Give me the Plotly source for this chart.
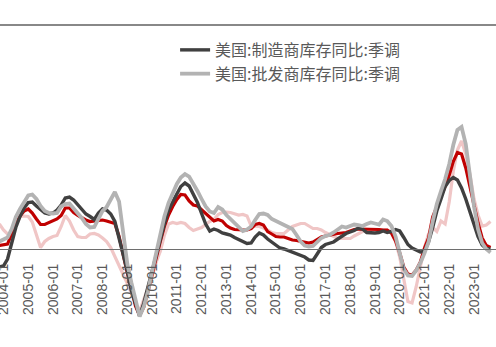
import pandas as pd
import plotly.graph_objects as go

# Bi-monthly observations, Nov 2003 - Sep 2023 (YoY %, seasonally adjusted)
months = pd.date_range("2003-11-01", "2023-09-01", freq="2MS")

manufacturing = [
    -3.6, -3.4, -2.0, 1.3, 4.3, 6.5, 8.2, 9.3, 9.4, 8.6, 7.9, 7.2, 7.0, 7.2, 7.8, 8.8,
    10.2, 10.4, 9.8, 8.8, 7.8, 7.0, 6.5, 5.9, 7.2, 8.0, 7.8, 7.0, 5.5, 2.2, -0.9, -4.4,
    -8.3, -11.0, -13.4, -10.8, -7.5, -4.3, -1.0, 1.9, 5.0, 7.8, 9.6, 11.0, 12.5, 13.2, 12.6, 11.1,
    9.3, 7.1, 5.0, 3.6, 4.0, 3.7, 3.2, 3.0, 2.8, 2.3, 1.9, 1.5, 1.1, 1.2, 2.4, 3.2,
    2.8, 2.0, 1.4, 0.8, 0.2, 0.0, -0.3, -0.7, -1.0, -1.3, -1.6, -2.2, -2.3, -1.0, 0.3, 0.9,
    1.1, 1.4, 2.0, 2.6, 3.1, 3.4, 3.7, 4.2, 4.0, 3.3, 3.2, 3.2, 3.3, 3.6, 3.3, 3.5,
    3.9, 3.6, 2.3, 0.9, 0.2, -0.3, -0.6, -0.5, 1.4, 4.3, 7.6, 10.0, 12.5, 13.7, 14.3, 13.8,
    12.2, 10.0, 7.6, 5.3, 2.5, 0.8, 0.1, 0.0,
]

wholesale = [
    1.5, 1.9, 2.3, 4.0, 6.4, 8.0, 9.5, 10.7, 10.9, 10.0, 8.6, 7.6, 7.2, 7.1, 7.2, 8.5,
    9.0, 9.1, 8.1, 7.2, 6.2, 5.0, 4.3, 4.4, 6.0, 7.6, 8.4, 10.1, 11.4, 9.5, 3.5, -3.0,
    -6.7, -10.0, -13.5, -11.5, -8.5, -4.5, -1.0, 2.5, 6.5, 9.2, 11.3, 13.0, 14.3, 15.0, 14.5, 13.2,
    11.6, 10.0, 8.5, 7.5, 7.2, 8.4, 7.9, 6.8, 6.0, 5.0, 4.2, 3.6, 3.9, 4.5, 5.8, 7.0,
    7.1, 6.8, 6.0, 5.6, 5.4, 5.0, 4.6, 4.0, 2.8, 1.5, 0.7, 0.5, 0.6, 1.5, 2.2, 2.6,
    2.8, 3.3, 3.8, 4.5, 4.3, 4.6, 4.9, 4.8, 4.6, 5.0, 5.3, 5.1, 4.9, 5.9, 5.6, 4.6,
    2.5, -0.8, -4.0, -5.3, -5.4, -4.3, -2.8, -0.8, 1.4, 5.5, 9.0, 11.6, 14.0, 17.0, 20.8, 23.8,
    24.4, 21.0, 14.5, 8.5, 4.0, 1.2, 0.0, -0.7,
]

total_business = [
    0.7, 0.8, 1.0, 3.0, 5.0, 6.6, 7.6, 8.0, 7.2, 6.0, 4.9, 4.9, 5.3, 5.6, 6.0, 6.7,
    8.2, 8.2, 7.3, 6.7, 6.2, 5.8, 5.5, 5.6, 5.8, 5.8, 5.6, 5.3, 5.1, 2.5, -1.5, -4.8,
    -7.8, -11.4, -13.3, -11.6, -8.5, -5.0, -1.5, 1.5, 4.5, 6.8, 8.5, 9.9, 10.9, 10.8, 9.6, 8.8,
    8.6, 7.8, 7.0, 6.3, 5.6, 5.9, 5.6, 4.7, 4.2, 3.9, 3.8, 3.8, 3.8, 4.1, 4.9, 5.1,
    4.8, 3.5, 3.0, 2.5, 2.4, 2.4, 2.1, 1.8, 1.7, 1.5, 1.4, 1.2, 1.4, 2.0, 2.4, 2.6,
    2.8, 3.0, 3.1, 3.2, 3.3, 3.6, 3.9, 4.0, 4.0, 4.0, 3.9, 3.9, 3.9, 3.8, 3.8, 3.2,
    1.6, -0.8, -3.6, -5.0, -5.2, -4.2, -2.6, 0.2, 2.2, 6.4, 8.4, 10.2, 12.5, 14.8, 17.5, 19.3,
    19.0, 16.2, 12.5, 8.4, 5.2, 2.2, 0.7, 0.3,
]

retail = [
    5.0, 3.8, 3.0, 3.2, 4.6, 6.5, 6.6, 6.5, 5.4, 2.8, 0.3, 1.5, 2.1, 2.5, 2.7, 4.5,
    6.7, 5.6, 3.8, 2.5, 2.3, 2.3, 3.0, 3.1, 2.8, 2.2, 1.5, 0.3, -1.5, -3.2, -4.8, -6.9,
    -8.9, -11.0, -12.4, -10.2, -7.9, -5.5, -2.7, -0.5, 2.7, 5.0, 5.3, 5.1, 5.3, 5.1, 4.3, 3.7,
    4.0, 4.3, 4.9, 5.5, 5.9, 6.9, 7.3, 7.4, 7.3, 7.0, 6.8, 6.9, 6.6, 4.6, 4.5, 4.5,
    4.2, 3.8, 3.3, 3.1, 3.1, 3.1, 3.8, 4.5, 4.8, 5.1, 5.1, 4.6, 4.1, 4.1, 3.8, 3.3,
    2.9, 2.4, 2.1, 2.1, 2.1, 2.1, 2.6, 3.0, 3.5, 3.6, 3.8, 3.8, 3.8, 3.8, 3.8, 3.2,
    1.5, -1.6, -5.8, -10.5, -10.8, -7.5, -3.5, 0.3, 3.0, 4.3, 3.5, 5.6, 5.0, 9.5, 15.5, 19.8,
    21.6, 19.0, 15.0, 10.0, 6.8, 4.6, 4.8, 5.5,
]

tick_years = list(range(2004, 2024))
tick_dates = [f"{y}-01-01" for y in tick_years]
tick_text = [f"{y}-01" for y in tick_years]

series = [
    ("美国:零售商库存同比:季调", retail, "#f0c6c6", 3.2, False),
    ("美国:商业库存同比:季调", total_business, "#c00000", 3.2, False),
    ("美国:制造商库存同比:季调", manufacturing, "#404040", 3.4, True),
    ("美国:批发商库存同比:季调", wholesale, "#b3b3b3", 3.8, True),
]

fig = go.Figure()
for name, vals, color, width, in_legend in series:
    fig.add_trace(go.Scatter(
        x=months, y=vals, mode="lines", name=name,
        line=dict(color=color, width=width),
        showlegend=in_legend,
    ))

y_lo, y_hi = -19.6, 49.8
fig.update_layout(
    width=496, height=347,
    margin=dict(l=0, r=0, t=0, b=0),
    paper_bgcolor="white", plot_bgcolor="white",
    showlegend=True,
    legend=dict(
        x=0.353, y=0.905, xanchor="left", yanchor="top",
        bgcolor="rgba(0,0,0,0)",
        font=dict(family="Noto Sans CJK SC", size=16, color="#595959"),
        tracegroupgap=0, itemwidth=30,
    ),
    xaxis=dict(
        range=["2003-11-11", "2023-11-21"],
        tickmode="array", tickvals=tick_dates, ticktext=tick_text,
        tickangle=-90,
        tickfont=dict(family="Liberation Sans", size=14, color="#595959"),
        ticks="", ticklabelstandoff=8, ticklabeloverflow="allow",
        showgrid=False, zeroline=False,
        showline=True, linecolor="#6e6e6e", linewidth=1,
        anchor="free", position=(0 - y_lo) / (y_hi - y_lo),
        automargin=False,
    ),
    yaxis=dict(
        range=[y_lo, y_hi], visible=False, showgrid=False, zeroline=False,
    ),
    shapes=[dict(
        type="line", xref="paper", yref="paper",
        x0=0, x1=1, y0=1 - 25 / 347, y1=1 - 25 / 347,
        line=dict(color="#606060", width=1.5),
    )],
)

fig.write_html("out.html")
